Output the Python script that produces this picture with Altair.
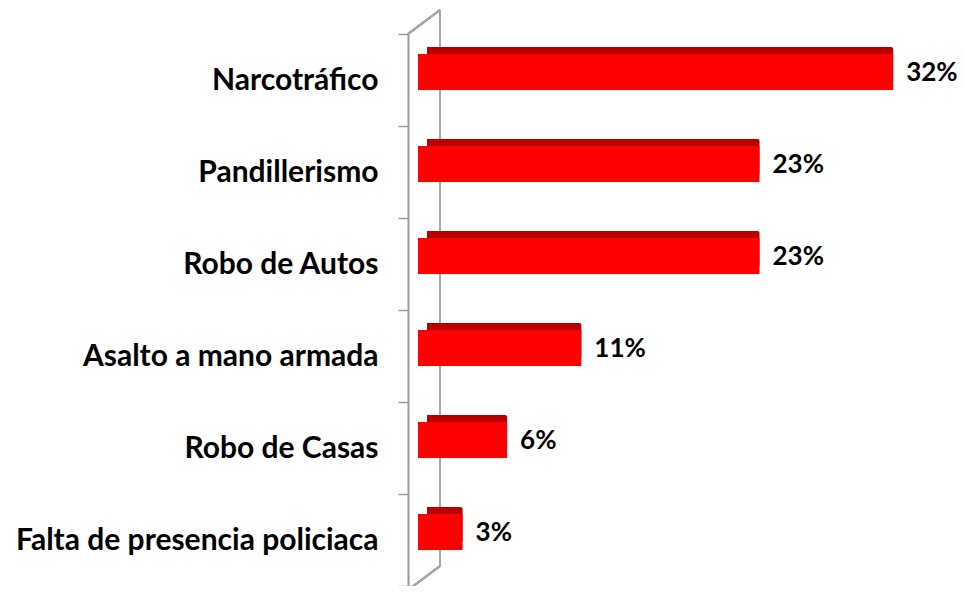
import altair as alt
import pandas as pd

categories = ["Narcotráfico", "Pandillerismo", "Robo de Autos",
              "Asalto a mano armada", "Robo de Casas", "Falta de presencia policiaca"]
values = [32, 23, 23, 11, 6, 3]
labels = ["32%", "23%", "23%", "11%", "6%", "3%"]

df = pd.DataFrame({"cat": categories, "val": values, "lab": labels})

FONT = "Lato"

x = alt.X("val:Q", scale=alt.Scale(domain=[0, 36.3], nice=False, zero=True), axis=None)
y = alt.Y("cat:N", sort=categories, scale=alt.Scale(paddingInner=0, paddingOuter=0),
          axis=alt.Axis(title=None, offset=10, tickBand="extent", tickSize=10,
                        tickColor="#9a9a9a", tickWidth=1.5, domainColor="#9a9a9a",
                        domainWidth=2, labelFont=FONT, labelFontSize=30,
                        labelFontWeight="bold", labelColor="#000000", labelPadding=20,
                        labelLimit=420, grid=False))

wall = dict(color="#a8a8a8", strokeWidth=2)
back_wall = alt.Chart(df).mark_rule(**wall).encode(
    x=alt.value(22), y=alt.value(-24), y2=alt.value(532))
top_diag = alt.Chart(df).mark_rule(**wall).encode(
    x=alt.value(-10), x2=alt.value(22), y=alt.value(0), y2=alt.value(-24))
bot_diag = alt.Chart(df).mark_rule(**wall).encode(
    x=alt.value(-10), x2=alt.value(22), y=alt.value(556), y2=alt.value(532))

depth = alt.Chart(df).mark_bar(color="#b80000", size=36, xOffset=9, yOffset=-15,
                               cornerRadius=2).encode(x=x, y=y)
front = alt.Chart(df).mark_bar(color="#ff0000", size=36, yOffset=-8).encode(x=x, y=y)
text = alt.Chart(df).mark_text(align="left", baseline="middle", dx=13, dy=-7,
                               font=FONT, fontSize=26, fontWeight="bold",
                               color="#000000").encode(x=x, y=y, text="lab:N")

chart = alt.layer(back_wall, top_diag, bot_diag, depth, front, text).properties(
    width=539, height=552,
    autosize=alt.AutoSizeParams(type="none"),
    padding={"left": 410, "top": 26, "right": 0, "bottom": 0},
    background="white",
).configure_view(stroke=None)

chart.save("out.html", embed_options={"renderer": "svg", "actions": False})
